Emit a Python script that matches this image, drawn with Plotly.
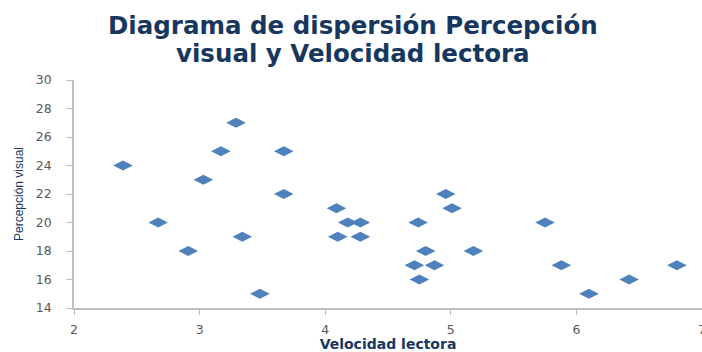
import plotly.graph_objects as go

velocidad = [2.39, 2.67, 2.91, 3.03, 3.17, 3.29, 3.34, 3.48, 3.67, 3.67,
             4.09, 4.10, 4.18, 4.28, 4.28, 4.74, 4.80, 4.71, 4.87, 4.75,
             4.96, 5.01, 5.18, 5.75, 5.88, 6.10, 6.42, 6.80]
percepcion = [24, 20, 18, 23, 25, 27, 19, 15, 25, 22,
              21, 19, 20, 20, 19, 20, 18, 17, 17, 16,
              22, 21, 18, 20, 17, 15, 16, 17]

x_ticks = [2, 3, 4, 5, 6, 7]
y_ticks = list(range(14, 31, 2))
title_lines = ["Diagrama de dispersión Percepción", "visual y Velocidad lectora"]

W, H = 702, 352
ML, MR, MT, MB = 74, 0, 80, 41
PH = H - MT - MB
PW = W - ML - MR

fig = go.Figure()
fig.add_trace(go.Scatter(
    x=velocidad, y=percepcion, mode="markers",
    marker=dict(symbol="diamond-wide", size=14, color="#4F81BD",
                line=dict(width=0)),
    showlegend=False,
))

tick_font = dict(family="DejaVu Sans", size=12.5, color="#595959")
title_font = dict(family="DejaVu Sans", size=24.5, color="#17375E", weight="bold")

for line, center_px in zip(title_lines, [25, 53]):
    fig.add_annotation(
        text=line, xref="paper", yref="paper",
        x=(353 - ML) / PW, xanchor="center",
        y=(H - MB - center_px) / PH, yanchor="middle",
        showarrow=False, font=title_font,
    )

fig.update_layout(
    width=W, height=H,
    margin=dict(l=ML, r=MR, t=MT, b=MB),
    paper_bgcolor="white", plot_bgcolor="white",
    xaxis=dict(
        range=[2, 7], tickvals=x_ticks, showgrid=False, zeroline=False,
        showline=True, linecolor="#BFBFBF", linewidth=1.5,
        ticks="outside", ticklen=5, tickcolor="#BFBFBF",
        tickfont=tick_font, ticklabelstandoff=4, ticklabeloverflow="allow",
        automargin="bottom",
        title=dict(text="Velocidad lectora", standoff=5,
                   font=dict(family="DejaVu Sans", size=14, color="#17375E", weight="bold")),
    ),
    yaxis=dict(
        range=[14, 30], tickvals=y_ticks, showgrid=False, zeroline=False,
        showline=True, linecolor="#BFBFBF", linewidth=1.5,
        ticks="outside", ticklen=6, tickcolor="#BFBFBF",
        tickfont=tick_font, ticklabelstandoff=12,
        title=dict(text="Percepción visual", standoff=10,
                   font=dict(family="Liberation Sans Narrow, Liberation Sans", size=12, color="#17375E")),
    ),
)

fig.write_html("out.html", config={"displayModeBar": False},
               post_script="document.body.style.margin='0';document.body.style.overflow='hidden';")
